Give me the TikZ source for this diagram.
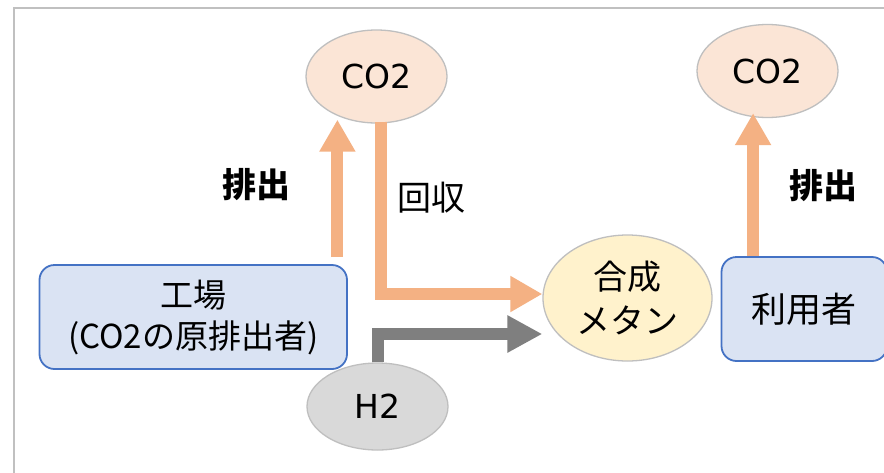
\documentclass[tikz,border=0pt]{standalone}
\usepackage{fontspec}
\setmainfont{Noto Sans CJK JP}
\newfontfamily\latinwide{DejaVu Sans}
\usetikzlibrary{shapes.geometric,arrows.meta,calc}
\definecolor{framec}{HTML}{C0C0C0}
\definecolor{ellb}{HTML}{BFBFBF}
\definecolor{co2fill}{HTML}{FBE5D6}
\definecolor{methfill}{HTML}{FFF2CC}
\definecolor{h2fill}{HTML}{D9D9D9}
\definecolor{boxfill}{HTML}{DAE3F3}
\definecolor{boxline}{HTML}{4472C4}
\definecolor{orangec}{HTML}{F4B183}
\definecolor{grayc}{HTML}{7F7F7F}
\tikzset{
  ell/.style={ellipse, draw=ellb, line width=1.3pt, inner sep=0pt,
    font=\fontsize{34}{40}\selectfont, align=center},
  co2/.style={ell, fill=co2fill, minimum width=141pt, minimum height=93pt,
    font=\latinwide\fontsize{33}{40}\selectfont},
  methnode/.style={ell, fill=methfill, minimum width=169pt, minimum height=126pt,
    font=\fontsize{34}{44}\selectfont},
  h2node/.style={ell, fill=h2fill, minimum width=141pt, minimum height=87pt,
    font=\latinwide\fontsize{33}{40}\selectfont},
  boxnode/.style={rectangle, rounded corners=15pt, draw=boxline, line width=1.8pt,
    fill=boxfill, inner sep=0pt, align=center},
  oarrow/.style={draw=orangec, line width=12pt, line join=miter,
    -{Triangle[length=32pt,width=34pt]}},
  garrow/.style={draw=grayc, line width=12pt, line join=miter,
    -{Triangle[length=35pt,width=35pt]}},
  lbl/.style={font=\fontsize{34}{40}\selectfont, inner sep=0pt},
  blbl/.style={font=\fontsize{34}{40}\selectfont\bfseries, inner sep=0pt}
}
\begin{document}
\begin{tikzpicture}[x=1pt,y=-1pt]
\useasboundingbox[fill=white] (0,0) rectangle (884,472);
\draw[framec, line width=2pt] (14,474) -- (14,7.5) -- (886,7.5);

\node[co2] (co2a) at (376.5,76.5) {CO2};
\node[co2] (co2b) at (767.5,71) {CO2};
\node[methnode] (meth) at (627.5,298) {合成\\メタン};
\node[h2node] (h2) at (377.5,406.5) {H2};
\node[boxnode, minimum width=307.5pt, minimum height=104pt,
  font=\fontsize{33}{41}\selectfont] (factory) at (193.25,317) {工場\\(CO2の原排出者)};
\node[boxnode, minimum width=165.5pt, minimum height=104pt,
  font=\fontsize{35}{41}\selectfont] (user) at (804.25,309) {利用者};

\node[blbl] (emit1) at (256,185) {排出};
\node[blbl] (emit2) at (823,186) {排出};
\node[lbl] (recov) at (431,198) {回収};

\coordinate (e1) at ([shift={(-10.5pt,7pt)}]factory.north east);
\draw[oarrow] (e1) -- ($(e1 |- co2a.south)+(0,-4)$);
\draw[oarrow] ([shift={(4pt,2pt)}]co2a.south) |- ($(meth.west)+(0,-4)$);
\draw[garrow] (h2.north) |- ($(meth.west)+(0,36)$);
\coordinate (e2) at ([xshift=32.5pt]user.north west);
\draw[oarrow] (e2) -- ($(e2 |- co2b.south)+(0,-5)$);
\end{tikzpicture}
\end{document}
